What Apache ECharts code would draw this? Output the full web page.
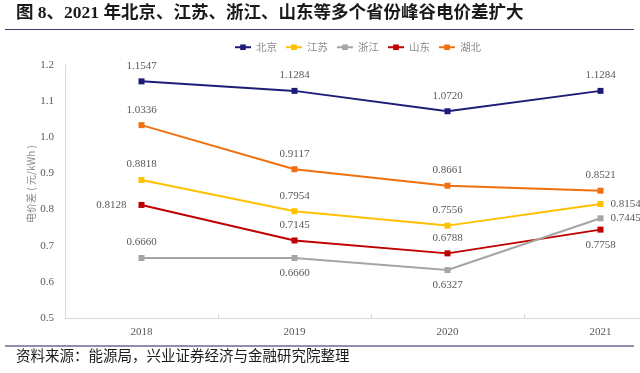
<!DOCTYPE html>
<html><head><meta charset="utf-8">
<script src="https://cdn.jsdelivr.net/npm/echarts@6/dist/echarts.min.js"></script>
<style>html,body{margin:0;padding:0;background:#fff;overflow:hidden;width:640px;height:373px}#c{width:700px;height:373px}</style>
</head><body><div id="c"></div>
<script>
const categories = ['2018', '2019', '2020', '2021'];
const yTicks = ['0.5','0.6','0.7','0.8','0.9','1.0','1.1','1.2'];
const seriesNames = ['北京', '江苏', '浙江', '山东', '湖北'];
const beijing  = [1.1547, 1.1284, 1.0720, 1.1284];
const jiangsu  = [0.8818, 0.7954, 0.7556, 0.8154];
const zhejiang = [0.6660, 0.6660, 0.6327, 0.7758];
const shandong = [0.8128, 0.7145, 0.6788, 0.7445];
const hubei    = [1.0336, 0.9117, 0.8661, 0.8521];
// label texts as printed in the source picture
const beijingLabels  = ['1.1547', '1.1284', '1.0720', '1.1284'];
const jiangsuLabels  = ['0.8818', '0.7954', '0.7556', '0.8154'];
const zhejiangLabels = ['0.6660', '0.6660', '0.6327', '0.7445'];
const shandongLabels = ['0.8128', '0.7145', '0.6788', '0.7758'];
const hubeiLabels    = ['1.0336', '0.9117', '0.8661', '0.8521'];
const yAxisName = '电价差 ( 元/kWh )';

const values = [beijing, jiangsu, zhejiang, shandong, hubei];
const labels = [beijingLabels, jiangsuLabels, zhejiangLabels, shandongLabels, hubeiLabels];
const colors = ['#1c1c78', '#ffc000', '#a5a5a5', '#c00000', '#f0700f'];
const labelPos = [
  ['top','top','top','top'],
  ['top','top','top','right'],
  ['top','bottom','bottom','right'],
  ['left','top','top','bottom'],
  ['top','top','top','top']
];
const labelFont = {fontFamily:'Liberation Serif', fontSize:11, color:'#595959'};

const series = seriesNames.map((n, i) => ({
  name: n,
  type: 'line',
  symbol: 'rect',
  symbolSize: 6,
  lineStyle: {width: 2, color: colors[i]},
  itemStyle: {color: colors[i]},
  z: 10 - i,
  data: values[i].map((v, j) => ({
    value: v,
    label: {
      show: true,
      position: labelPos[i][j],
      distance: labelPos[i][j] === 'left' ? 12 : 7,
      formatter: () => labels[i][j],
      ...labelFont
    }
  }))
}));

const chart = echarts.init(document.getElementById('c'));
chart.setOption({
  animation: false,
  color: colors,
  legend: {
    left: 229, top: 37,
    itemWidth: 16, itemHeight: 7, itemGap: 8,
    textStyle: {fontSize: 10.5, color: '#8c8c8c', fontFamily: 'Noto Sans CJK SC'},
    data: seriesNames
  },
  grid: {left: 65, top: 65, width: 612, height: 253},
  xAxis: {
    type: 'category',
    data: categories,
    boundaryGap: true,
    axisLine: {lineStyle: {color: '#d9d9d9', width: 1}},
    axisTick: {show: true, inside: true, length: 4, lineStyle: {color: '#d9d9d9'}},
    axisLabel: {fontFamily: 'Liberation Serif', fontSize: 11, color: '#595959', margin: 9}
  },
  yAxis: {
    type: 'value',
    min: 0.5, max: 1.2, interval: 0.1,
    axisLine: {show: true, lineStyle: {color: '#d9d9d9'}},
    axisTick: {show: false},
    splitLine: {show: false},
    axisLabel: {
      fontFamily: 'Liberation Serif', fontSize: 11, color: '#595959', margin: 11,
      formatter: v => yTicks[Math.round((v - 0.5) * 10)]
    }
  },
  series: series,
  graphic: [
    {type: 'text', x: 31, y: 184, rotation: Math.PI / 2, style: {text: yAxisName, font: '10px "Noto Sans CJK SC"', fill: '#8c8c8c', align: 'center', verticalAlign: 'middle'}},
    {type: 'text', left: 16, top: 5, style: {text: '图 8、2021 年北京、江苏、浙江、山东等多个省份峰谷电价差扩大', font: 'bold 17.5px "Liberation Serif", "Noto Sans CJK SC"', fill: '#1a1a1a'}},
    {type: 'line', shape: {x1: 5, y1: 29.5, x2: 634, y2: 29.5}, style: {stroke: '#3f3f6f', lineWidth: 1.2}},
    {type: 'line', shape: {x1: 5, y1: 346, x2: 634, y2: 346}, style: {stroke: '#8e8eae', lineWidth: 2}},
    {type: 'text', left: 16, top: 348, style: {text: '资料来源：能源局，兴业证券经济与金融研究院整理', font: '14.5px "Noto Sans CJK SC"', fill: '#1a1a1a'}}
  ]
});
</script></body></html>
